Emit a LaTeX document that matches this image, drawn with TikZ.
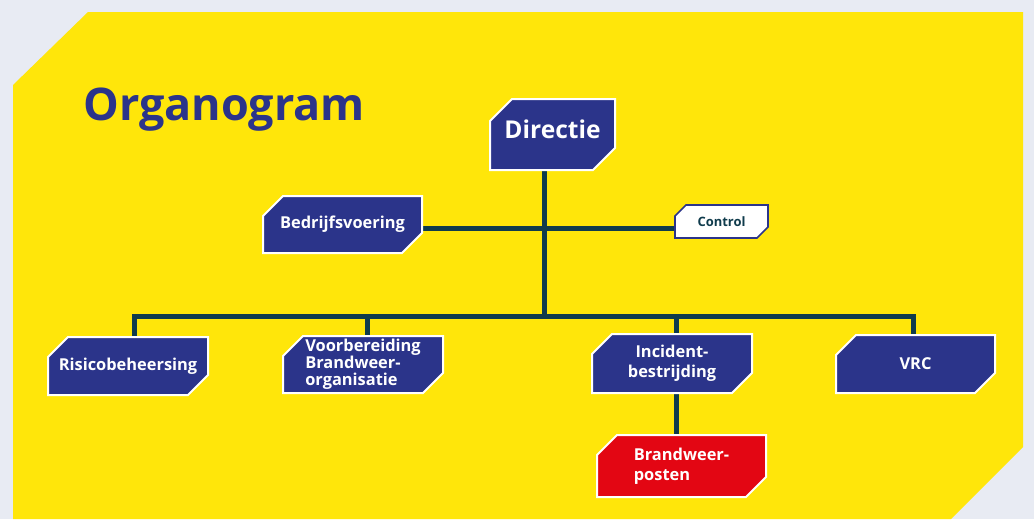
\documentclass[tikz,border=0pt]{standalone}
\usepackage{fontspec}
\setmainfont{Open Sans}
\usetikzlibrary{calc}

\definecolor{bgGrey}{HTML}{E8EBF3}
\definecolor{orgYellow}{HTML}{FFE60A}
\definecolor{orgBlue}{HTML}{2B348A}
\definecolor{orgLine}{HTML}{0F3B4C}
\definecolor{orgRed}{HTML}{E30613}

\pgfdeclarelayer{backdrop}
\pgfdeclarelayer{frames}
\pgfsetlayers{backdrop,frames,main}

\tikzset{
  orgbox/.style={rectangle, inner sep=0pt, outer sep=0pt, text=white,
    font=\bfseries\fontsize{12.3}{15}\selectfont},
  blueframe/.style={fill=orgBlue, draw=white, line width=1.5pt},
  redframe/.style={fill=orgRed, draw=white, line width=1.5pt},
  whiteframe/.style={fill=white, draw=orgBlue, line width=1.3pt},
  orgline/.style={draw=orgLine, line width=3.75pt, line join=miter},
}

% cut-corner frame round a node: node, cut, style
\newcommand{\cutframe}[3]{%
  \begin{pgfonlayer}{frames}
  \draw [#3] ($(#1.north west)+(#2,0)$) -- (#1.north east) -- ($(#1.south east)+(0,-#2)$)
    -- ($(#1.south east)+(-#2,0)$) -- (#1.south west) -- ($(#1.north west)+(0,#2)$) -- cycle ;
  \end{pgfonlayer}}

\begin{document}
\begin{tikzpicture}[x=0.75pt,y=0.75pt,yscale=-1,xscale=1]
\useasboundingbox (0,0) rectangle (1034,519);

\begin{pgfonlayer}{backdrop}
%Shape: Background
    \fill [bgGrey] (0,0) rectangle (1034,519);
%Shape: Yellow panel
    \fill [orgYellow] (13,85) -- (88,12) -- (1023,12) -- (1023,447) -- (951,519) -- (13,519) -- cycle ;
\end{pgfonlayer}

% Text Node
    \node (title) [anchor=base west, inner sep=0pt, text=orgBlue, font=\bfseries\fontsize{33.7}{36}\selectfont] at (83,120) {Organogram};

% Boxes
    \node (dir) [orgbox, minimum width=93.75pt, minimum height=53.25pt, text height=13.1pt, text depth=6.8pt,
      font=\bfseries\fontsize{18.4}{20}\selectfont] at (552.5,134.5) {Directie};
    \node (bv) [orgbox, minimum width=119.25pt, minimum height=42.75pt] at (342.5,224.5) {Bedrijfsvoering};
    \node (ctl) [orgbox, minimum width=69.75pt, minimum height=24.75pt, text=orgLine,
      font=\bfseries\fontsize{9.7}{11}\selectfont] at (721.5,221.5) {Control};
    \node (rb) [orgbox, minimum width=120pt, minimum height=43.5pt] at (128,366) {Risicobeheersing};
    \node (vbo) [orgbox, minimum width=120pt, minimum height=42.75pt, align=left,
      font=\bfseries\fontsize{12.3}{12.6}\selectfont] at (363,364.5) {Voorbereiding\\Brandweer-\\organisatie};
    \node (ib) [orgbox, minimum width=120pt, minimum height=44.25pt, align=center] at (672,363.5) {Incident-\\bestrijding};
    \node (vrc) [orgbox, minimum width=119.25pt, minimum height=43.5pt] at (915.5,364) {VRC};
    \node (bp) [orgbox, minimum width=126.75pt, minimum height=46.5pt, align=left] at (681.5,466) {Brandweer-\\posten};

    \cutframe{dir}{22}{blueframe}
    \cutframe{bv}{20}{blueframe}
    \cutframe{ctl}{11}{whiteframe}
    \cutframe{rb}{20}{blueframe}
    \cutframe{vbo}{20}{blueframe}
    \cutframe{ib}{20}{blueframe}
    \cutframe{vrc}{20}{blueframe}
    \cutframe{bp}{20}{redframe}

% Junctions
    \coordinate (hub) at (544,316);
    \coordinate (mid) at (544,228);
    \coordinate (d1) at (134,316);
    \coordinate (d2) at (367,316);
    \coordinate (d3) at (676,316);
    \coordinate (d4) at (913,316);

% Lines
\begin{pgfonlayer}{backdrop}
    \draw [orgline] (dir.south -| hub) -- (hub);
    \draw [orgline] (bv.east |- mid) -- (ctl.west |- mid);
    \draw [orgline] (rb.north -| d1) -- (d1) -- (d4) -- (vrc.north -| d4);
    \draw [orgline] (d2) -- (vbo.north -| d2);
    \draw [orgline] (d3) -- (ib.north -| d3);
    \draw [orgline] (ib.south -| d3) -- (bp.north -| d3);
\end{pgfonlayer}

\end{tikzpicture}
\end{document}
